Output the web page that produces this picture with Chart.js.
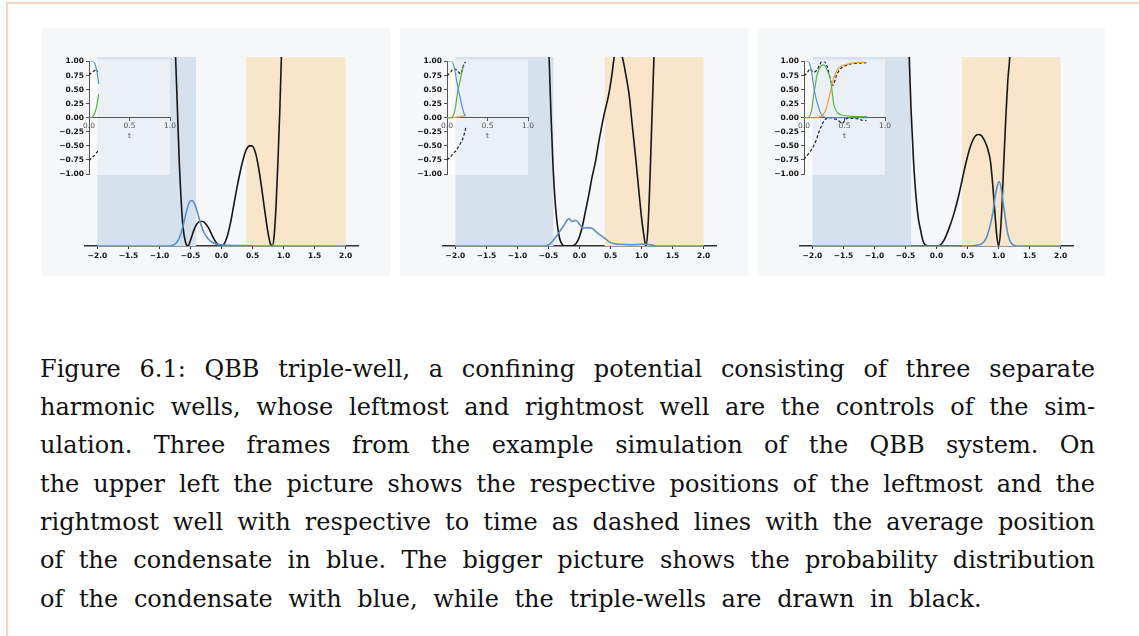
<!DOCTYPE html>
<html>
<head>
<meta charset="utf-8">
<script src="https://cdn.jsdelivr.net/npm/chart.js@4.4.0/dist/chart.umd.min.js"></script>
<style>
  html, body { margin: 0; padding: 0; background: #fff; }
  body { width: 1139px; height: 636px; position: relative; overflow: hidden; }
  .frame { position: absolute; left: 6px; top: 2px; width: 1200px; height: 700px;
           border-left: 2px solid #fbd3bb; border-top: 2px solid #fbd3bb; }
  .panel { position: absolute; top: 28px; width: 348px; height: 248px; background: #f6f7f9; }
  .panel canvas { position: absolute; left: 0; top: 0; }
  .cap { position: absolute; left: 40px; width: 1055px; font-family: "DejaVu Serif", serif;
         font-size: 24px; line-height: 28px; color: #111; }
  .just { text-align: justify; text-align-last: justify; }
</style>
</head>
<body>
<div class="frame"></div>

<div class="panel" style="left:42px"><canvas id="main1" width="348" height="248"></canvas><canvas id="inset1" width="348" height="248"></canvas></div>
<div class="panel" style="left:400px"><canvas id="main2" width="348" height="248"></canvas><canvas id="inset2" width="348" height="248"></canvas></div>
<div class="panel" style="left:757px"><canvas id="main3" width="348" height="248"></canvas><canvas id="inset3" width="348" height="248"></canvas></div>

<div class="cap just" style="top:355px">Figure 6.1: QBB triple-well, a confining potential consisting of three separate</div>
<div class="cap just" style="top:393px">harmonic wells, whose leftmost and rightmost well are the controls of the sim-</div>
<div class="cap just" style="top:431px">ulation. Three frames from the example simulation of the QBB system. On</div>
<div class="cap just" style="top:470px">the upper left the picture shows the respective positions of the leftmost and the</div>
<div class="cap just" style="top:508px">rightmost well with respective to time as dashed lines with the average position</div>
<div class="cap just" style="top:546px">of the condensate in blue. The bigger picture shows the probability distribution</div>
<div class="cap" style="top:585px; word-spacing:8px">of the condensate with blue, while the triple-wells are drawn in black.</div>

<script>
// tick values
const xTicks = [-2.0, -1.5, -1.0, -0.5, 0.0, 0.5, 1.0, 1.5, 2.0];
const insetYTicks = [-1, -0.75, -0.5, -0.25, 0, 0.25, 0.5, 0.75, 1];
const insetXTicks = [0, 0.5, 1];

// frame 1: potential (black) and density (blue)
const potX1 = [-0.77,-0.74,-0.71,-0.68,-0.65,-0.62,-0.58,-0.54,-0.50,-0.45,-0.40,-0.35,-0.30,-0.25,-0.20,-0.15,-0.10,-0.05,0.00,0.05,0.10,0.15,0.20,0.25,0.30,0.35,0.40,0.45,0.49,0.55,0.60,0.65,0.70,0.75,0.79,0.82,0.85,0.88,0.91,0.94,0.965,0.99];
const potY1 = [1.3,1.0,0.72,0.44,0.24,0.10,0.02,0.0,0.03,0.08,0.115,0.13,0.13,0.115,0.09,0.055,0.025,0.006,0.0,0.015,0.06,0.13,0.22,0.31,0.39,0.46,0.51,0.53,0.53,0.49,0.41,0.30,0.18,0.07,0.01,0.0,0.06,0.22,0.45,0.72,1.0,1.3];
const densX1 = [-2.0,-0.85,-0.78,-0.72,-0.66,-0.61,-0.56,-0.52,-0.475,-0.43,-0.38,-0.34,-0.28,-0.22,-0.15,-0.08,0.0,0.1,0.2,0.4,0.6,2.0];
const densY1 = [0,0,0.005,0.02,0.06,0.12,0.19,0.23,0.24,0.22,0.17,0.12,0.07,0.04,0.02,0.01,0.006,0.004,0.003,0.002,0,0];
const leftWell1 = [-2.0, -0.41];
const rightWell1 = [0.40, 2.0];

// frame 2
const potX2 = [-0.52,-0.49,-0.46,-0.43,-0.40,-0.36,-0.32,-0.28,-0.24,-0.15,-0.08,-0.04,0.00,0.05,0.10,0.15,0.20,0.26,0.30,0.35,0.40,0.47,0.52,0.56,0.62,0.69,0.75,0.80,0.85,0.91,0.96,1.00,1.04,1.07,1.10,1.13,1.16,1.19,1.21];
const potY2 = [1.3,1.0,0.7,0.45,0.27,0.12,0.04,0.01,0.0,0.0,0.005,0.02,0.05,0.11,0.19,0.27,0.36,0.45,0.53,0.62,0.70,0.80,0.90,1.0,1.05,1.0,0.90,0.80,0.64,0.45,0.28,0.15,0.05,0.0,0.08,0.3,0.6,0.9,1.1];
const densX2 = [-2.0,-0.55,-0.50,-0.45,-0.40,-0.335,-0.25,-0.17,-0.12,-0.055,0.0,0.04,0.08,0.12,0.2,0.26,0.32,0.37,0.43,0.48,0.55,0.65,0.8,0.95,1.05,1.15,1.25,2.0];
const densY2 = [0,0,0.005,0.02,0.04,0.07,0.11,0.145,0.13,0.135,0.115,0.098,0.095,0.097,0.094,0.078,0.062,0.05,0.035,0.022,0.013,0.009,0.007,0.008,0.01,0.006,0.0,0];
const leftWell2 = [-2.0, -0.42];
const rightWell2 = [0.405, 2.0];

// frame 3
const potX3 = [-0.47,-0.44,-0.41,-0.37,-0.33,-0.29,-0.26,-0.22,-0.18,-0.10,0.00,0.06,0.12,0.20,0.28,0.36,0.42,0.48,0.55,0.62,0.67,0.72,0.77,0.82,0.87,0.91,0.94,0.97,1.00,1.03,1.06,1.085,1.12,1.15,1.18,1.20];
const potY3 = [1.3,1.0,0.72,0.45,0.26,0.14,0.09,0.03,0.005,0.0,0.0,0.005,0.03,0.092,0.17,0.27,0.36,0.447,0.53,0.58,0.59,0.585,0.56,0.52,0.447,0.31,0.18,0.06,0.0,0.07,0.25,0.447,0.7,0.88,1.0,1.2];
const densX3 = [-2.0,0.5,0.65,0.73,0.8,0.85,0.905,0.95,0.98,1.01,1.04,1.07,1.1,1.14,1.18,1.22,1.3,2.0];
const densY3 = [0,0,0.004,0.012,0.04,0.09,0.17,0.27,0.32,0.34,0.31,0.24,0.17,0.08,0.03,0.01,0,0];
const leftWell3 = [-2.0, -0.41];
const rightWell3 = [0.41, 2.0];

// insets: occupations (blue, green, orange) and well positions (dashed)
const in1BlueT = [0,0.05,0.08,0.10,0.12];
const in1Blue  = [1.0,1.0,0.93,0.8,0.6];
const in1GreenT = [0,0.03,0.06,0.09,0.12];
const in1Green  = [0,0,0.05,0.17,0.42];
const in1UpT = [0,0.03,0.06,0.09,0.11];
const in1Up  = [0.76,0.8,0.83,0.85,0.82];
const in1LowT = [0,0.03,0.06,0.09,0.12];
const in1Low  = [-0.76,-0.72,-0.68,-0.63,-0.57];

const in2BlueT = [0,0.06,0.08,0.10,0.12,0.14,0.165,0.19,0.21,0.23];
const in2Blue  = [1,1,0.95,0.82,0.65,0.5,0.34,0.18,0.08,0.03];
const in2GreenT = [0,0.05,0.08,0.10,0.12,0.14,0.165,0.19,0.21];
const in2Green  = [0,0,0.05,0.15,0.35,0.52,0.68,0.85,0.93];
const in2OrangeT = [0,0.1,0.15,0.2,0.23];
const in2Orange  = [0,0.005,0.015,0.03,0.04];
const in2UpT = [0,0.04,0.08,0.12,0.15,0.17,0.2,0.23];
const in2Up  = [0.75,0.8,0.87,0.85,0.8,0.78,0.92,1.0];
const in2LowT = [0,0.04,0.08,0.12,0.16,0.19,0.22,0.235];
const in2Low  = [-0.75,-0.7,-0.63,-0.57,-0.47,-0.39,-0.25,-0.16];

const in3BlueT = [0,0.05,0.08,0.10,0.115,0.14,0.16,0.18,0.20,0.24,0.30,0.78];
const in3Blue  = [1,1,0.9,0.75,0.6,0.4,0.28,0.19,0.1,0.02,0.0,0.0];
const in3GreenT = [0,0.05,0.08,0.10,0.115,0.14,0.155,0.18,0.21,0.24,0.27,0.30,0.32,0.34,0.36,0.38,0.42,0.5,0.6,0.78];
const in3Green  = [0,0,0.06,0.18,0.37,0.58,0.72,0.84,0.92,0.94,0.9,0.8,0.72,0.55,0.31,0.18,0.08,0.04,0.025,0.02];
const in3OrangeT = [0,0.15,0.2,0.24,0.28,0.32,0.36,0.39,0.42,0.47,0.53,0.63,0.77];
const in3Orange  = [0,0,0.02,0.06,0.19,0.43,0.66,0.79,0.87,0.92,0.95,0.98,0.99];
const in3UpT = [0,0.04,0.075,0.115,0.155,0.19,0.22,0.25,0.28,0.30,0.33,0.35,0.38,0.40,0.43,0.465,0.52,0.59,0.68,0.77];
const in3Up  = [0.75,0.8,0.87,0.81,0.84,0.93,1.0,1.0,0.93,0.84,0.65,0.57,0.65,0.75,0.83,0.89,0.93,0.96,0.97,0.98];
const in3LowT = [0,0.05,0.115,0.15,0.18,0.22,0.25,0.28,0.34,0.38,0.42,0.47,0.5,0.53,0.63,0.71,0.77];
const in3Low  = [-0.74,-0.65,-0.51,-0.4,-0.27,-0.13,-0.05,-0.01,0.0,-0.02,-0.04,-0.1,-0.06,-0.01,-0.01,-0.04,-0.05];

const COL_BLUE = '#5b8fc9';
const COL_GREEN = '#5cb24a';
const COL_ORANGE = '#f29a38';

function pts(xs, ys) {
    return xs.map((x, i) => ({ x: x, y: ys[i] }));
}

function fmt(v, d) {
    return (v < 0 ? '\u2212' : '') + Math.abs(v).toFixed(d);
}

// shaded control wells behind the curves
const wellShade = {
    id: 'wellShade',
    beforeDatasetsDraw(chart, args, opts) {
        const { ctx, scales: { x, y } } = chart;
        const top = y.getPixelForValue(1), bot = y.getPixelForValue(0);
        ctx.save();
        opts.regions.forEach(r => {
            const a = x.getPixelForValue(r.range[0]);
            const b = x.getPixelForValue(r.range[1]);
            ctx.fillStyle = r.color;
            ctx.fillRect(a, top, b - a, bot - top);
        });
        ctx.restore();
    }
};

// translucent background of the inset axes
const insetBg = {
    id: 'insetBg',
    beforeDraw(chart) {
        const { ctx, chartArea: a } = chart;
        ctx.save();
        ctx.fillStyle = 'rgba(255,255,255,0.5)';
        ctx.fillRect(a.left, a.top - 2, a.right - a.left, a.bottom - a.top + 3);
        ctx.restore();
    }
};

function makeMain(id, pot, dens, leftWell, rightWell) {
    new Chart(document.getElementById(id), {
        type: 'line',
        data: {
            datasets: [{
                data: dens,
                borderColor: COL_BLUE,
                borderWidth: 1.6,
                pointRadius: 0,
                cubicInterpolationMode: 'monotone'
            }, {
                data: pot,
                borderColor: '#161616',
                borderWidth: 1.6,
                pointRadius: 0,
                cubicInterpolationMode: 'monotone'
            }]
        },
        options: {
            responsive: false,
            animation: false,
            devicePixelRatio: 1,
            layout: { padding: { left: 43, right: 32, top: 29, bottom: 0 } },
            plugins: {
                legend: { display: false },
                tooltip: { enabled: false },
                wellShade: {
                    regions: [
                        { range: leftWell, color: '#d6e1ee' },
                        { range: rightWell, color: '#f8e6cb' }
                    ]
                }
            },
            scales: {
                x: {
                    type: 'linear',
                    min: -2.2,
                    max: 2.2,
                    z: 1,
                    afterBuildTicks: s => { s.ticks = xTicks.map(v => ({ value: v })); },
                    afterFit: s => { s.height = 30; },
                    ticks: {
                        font: { family: 'DejaVu Sans', size: 7.5, weight: 'bold' },
                        color: '#111',
                        padding: 3,
                        maxRotation: 0,
                        callback: v => fmt(v, 1)
                    },
                    grid: { drawOnChartArea: false, tickLength: 3, color: '#333' },
                    border: { color: '#333', width: 1.5 }
                },
                y: { display: false, min: 0, max: 1 }
            }
        },
        plugins: [wellShade]
    });
}

function makeInset(id, series) {
    new Chart(document.getElementById(id), {
        type: 'line',
        data: {
            datasets: series.map(s => ({
                data: s.data,
                borderColor: s.color,
                borderWidth: 1.2,
                borderDash: s.dash || [],
                pointRadius: 0,
                cubicInterpolationMode: 'monotone'
            }))
        },
        options: {
            responsive: false,
            animation: false,
            devicePixelRatio: 1,
            layout: { padding: { left: 0, right: 220, top: 33.5, bottom: 102 } },
            plugins: { legend: { display: false }, tooltip: { enabled: false } },
            scales: {
                x: {
                    type: 'linear',
                    min: 0,
                    max: 1,
                    position: { y: 0 },
                    afterBuildTicks: s => { s.ticks = insetXTicks.map(v => ({ value: v })); },
                    ticks: {
                        font: { family: 'DejaVu Sans', size: 7.5 },
                        color: '#555',
                        padding: 1,
                        maxRotation: 0,
                        callback: v => v.toFixed(1)
                    },
                    grid: { drawOnChartArea: false, tickLength: 3, color: '#555' },
                    border: { color: '#555', width: 1 },
                    title: { display: true, text: 't', font: { family: 'DejaVu Sans', size: 7.5 }, color: '#555', padding: 0 }
                },
                y: {
                    min: -1,
                    max: 1,
                    afterFit: s => { s.width = 47; },
                    afterBuildTicks: s => { s.ticks = insetYTicks.map(v => ({ value: v })); },
                    ticks: {
                        font: { family: 'DejaVu Sans', size: 7.5, weight: 'bold' },
                        color: '#111',
                        padding: 2,
                        callback: v => fmt(v, 2)
                    },
                    grid: { drawOnChartArea: false, tickLength: 3, color: '#555' },
                    border: { color: '#555', width: 1 }
                }
            }
        },
        plugins: [insetBg]
    });
}

const DASH = [3, 2];

makeMain('main1', pts(potX1, potY1), pts(densX1, densY1), leftWell1, rightWell1);
makeMain('main2', pts(potX2, potY2), pts(densX2, densY2), leftWell2, rightWell2);
makeMain('main3', pts(potX3, potY3), pts(densX3, densY3), leftWell3, rightWell3);

makeInset('inset1', [
    { data: pts(in1BlueT, in1Blue), color: COL_BLUE },
    { data: pts(in1GreenT, in1Green), color: COL_GREEN },
    { data: pts(in1UpT, in1Up), color: '#222', dash: DASH },
    { data: pts(in1LowT, in1Low), color: '#222', dash: DASH }
]);
makeInset('inset2', [
    { data: pts(in2BlueT, in2Blue), color: COL_BLUE },
    { data: pts(in2GreenT, in2Green), color: COL_GREEN },
    { data: pts(in2OrangeT, in2Orange), color: COL_ORANGE },
    { data: pts(in2UpT, in2Up), color: '#222', dash: DASH },
    { data: pts(in2LowT, in2Low), color: '#222', dash: DASH }
]);
makeInset('inset3', [
    { data: pts(in3BlueT, in3Blue), color: COL_BLUE },
    { data: pts(in3GreenT, in3Green), color: COL_GREEN },
    { data: pts(in3OrangeT, in3Orange), color: COL_ORANGE },
    { data: pts(in3UpT, in3Up), color: '#222', dash: DASH },
    { data: pts(in3LowT, in3Low), color: '#222', dash: DASH }
]);
</script>
</body>
</html>
